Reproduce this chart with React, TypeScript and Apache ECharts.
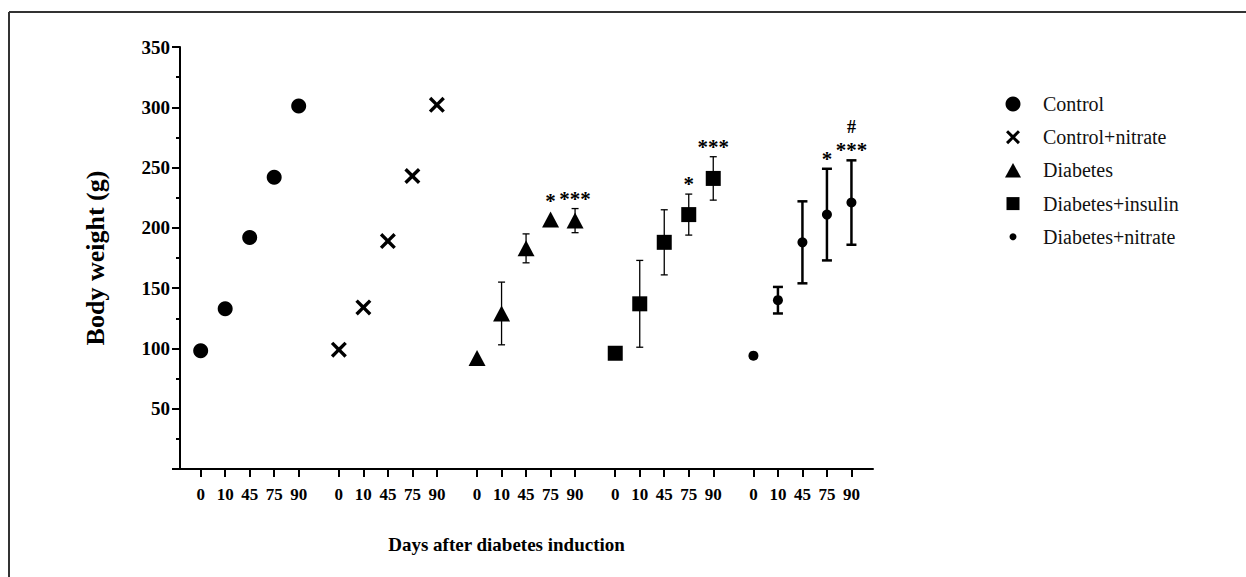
import React, { useEffect, useRef } from "react";
import * as echarts from "echarts";

// Sampling days shown under every group
const days = ["0", "10", "45", "75", "90"];

// Treatment groups, in plotting order
const groups = ["Control", "Control+nitrate", "Diabetes", "Diabetes+insulin", "Diabetes+nitrate"];

// Mean body weight (g) per day, and SD
const controlMean = [98, 133, 192, 242, 301];
const controlSd = [0, 0, 0, 0, 0];
const controlNitrateMean = [99, 134, 189, 243, 302];
const controlNitrateSd = [0, 0, 0, 0, 0];
const diabetesMean = [92, 129, 183, 207, 206];
const diabetesSd = [0, 26, 12, 0, 10];
const insulinMean = [96, 137, 188, 211, 241];
const insulinSd = [0, 36, 27, 17, 18];
const nitrateMean = [94, 140, 188, 211, 221];
const nitrateSd = [0, 11, 34, 38, 35];

// Significance marks drawn above each point
const noMarks = ["", "", "", "", ""];
const diabetesStars = ["", "", "", "*", "***"];
const insulinStars = ["", "", "", "*", "***"];
const nitrateStars = ["", "", "", "*", "***"];
const nitrateHash = ["", "", "", "", "#"];

const groupMeans = [controlMean, controlNitrateMean, diabetesMean, insulinMean, nitrateMean];
const groupSds = [controlSd, controlNitrateSd, diabetesSd, insulinSd, nitrateSd];
const groupStars = [noMarks, noMarks, diabetesStars, insulinStars, nitrateStars];
const groupHash = [noMarks, noMarks, noMarks, noMarks, nitrateHash];

const SERIF = "'Liberation Serif', 'Times New Roman', serif";
const X_PATH =
  "path://M1.5,0L5,3.5L8.5,0L10,1.5L6.5,5L10,8.5L8.5,10L5,6.5L1.5,10L0,8.5L3.5,5L0,1.5Z";

// Horizontal layout: groups are laid out side by side on one value axis
const GROUP_STEP = 5.64;
const X_MIN = -1.13;
const X_MAX = 27.44;
const xPos = (g: number, i: number) => g * GROUP_STEP + i;

const tickPositions: number[] = [];
const tickLabels: string[] = [];
groups.forEach((_, g) =>
  days.forEach((d, i) => {
    tickPositions.push(xPos(g, i));
    tickLabels.push(d);
  })
);
const labelFor = (v: number) => {
  for (let k = 0; k < tickPositions.length; k++) {
    if (Math.abs(tickPositions[k] - v) < 1e-6) return tickLabels[k];
  }
  return "";
};

const markerStyles: { symbol: string; size: number | number[]; half: number }[] = [
  { symbol: "circle", size: 15, half: 7.5 },
  { symbol: X_PATH, size: 16, half: 8 },
  { symbol: "triangle", size: [17, 16], half: 8 },
  { symbol: "rect", size: 15, half: 7.5 },
  { symbol: "circle", size: 10, half: 5 },
];
const barStyles = [
  { width: 1.3, cap: 7 },
  { width: 1.3, cap: 7 },
  { width: 1.3, cap: 7 },
  { width: 1.3, cap: 7 },
  { width: 2.5, cap: 10 },
];

function buildOption(): any {
  const series: any[] = [];

  groups.forEach((name, g) => {
    const pts = groupMeans[g].map((m, i) => [xPos(g, i), m, groupSds[g][i]]);
    const bar = barStyles[g];

    series.push({
      type: "custom",
      name: name + " SD",
      z: 1,
      clip: false,
      data: pts,
      encode: { x: 0, y: 1 },
      renderItem: (_p: any, api: any) => {
        const x = api.value(0);
        const m = api.value(1);
        const sd = api.value(2);
        if (!sd) return { type: "group", children: [] };
        const top = api.coord([x, m + sd]);
        const bot = api.coord([x, m - sd]);
        const hw = bar.cap / 2;
        const style = { stroke: "#000", lineWidth: bar.width };
        return {
          type: "group",
          children: [
            { type: "line", shape: { x1: top[0], y1: top[1], x2: bot[0], y2: bot[1] }, style },
            { type: "line", shape: { x1: top[0] - hw, y1: top[1], x2: top[0] + hw, y2: top[1] }, style },
            { type: "line", shape: { x1: bot[0] - hw, y1: bot[1], x2: bot[0] + hw, y2: bot[1] }, style },
          ],
        };
      },
    });

    series.push({
      type: "scatter",
      name,
      z: 3,
      symbol: markerStyles[g].symbol,
      symbolSize: markerStyles[g].size,
      itemStyle: { color: "#000", opacity: 1 },
      data: pts.map((p) => [p[0], p[1]]),
    });

    const marks = groupMeans[g]
      .map((m, i) => ({ i, m }))
      .filter(({ i }) => groupStars[g][i] || groupHash[g][i]);
    if (marks.length) {
      series.push({
        type: "custom",
        name: name + " significance",
        z: 4,
        clip: false,
        data: marks.map(({ i, m }) => [xPos(g, i), m, groupSds[g][i], i]),
        encode: { x: 0, y: 1 },
        renderItem: (_p: any, api: any) => {
          const x = api.value(0);
          const m = api.value(1);
          const sd = api.value(2);
          const i = api.value(3);
          const c = api.coord([x, m]);
          const barTop = api.coord([x, m + sd])[1];
          const top = Math.min(barTop, c[1] - markerStyles[g].half);
          const children: any[] = [];
          if (groupStars[g][i]) {
            children.push({
              type: "text",
              x: c[0],
              y: top - 1,
              style: {
                text: groupStars[g][i],
                fontFamily: SERIF,
                fontWeight: "bold",
                fontSize: 21,
                lineHeight: 18,
                fill: "#000",
                align: "center",
                verticalAlign: "bottom",
              },
            });
          }
          if (groupHash[g][i]) {
            children.push({
              type: "text",
              x: c[0],
              y: top - 25,
              style: {
                text: groupHash[g][i],
                fontFamily: SERIF,
                fontWeight: "bold",
                fontSize: 18,
                lineHeight: 16,
                fill: "#000",
                align: "center",
                verticalAlign: "bottom",
              },
            });
          }
          return { type: "group", children };
        },
      });
    }
  });

  // Legend, drawn as symbol + label rows to the right of the plot
  const LEGEND_X = 1013;
  const LEGEND_TEXT_X = 1043;
  const LEGEND_TOP = 104;
  const LEGEND_STEP = 33.2;
  const xPoly = (cx: number, cy: number, s: number) => {
    const raw = [
      [1.5, 0], [5, 3.5], [8.5, 0], [10, 1.5], [6.5, 5], [10, 8.5],
      [8.5, 10], [5, 6.5], [1.5, 10], [0, 8.5], [3.5, 5], [0, 1.5],
    ];
    return raw.map(([px, py]) => [cx - s / 2 + (px * s) / 10, cy - s / 2 + (py * s) / 10]);
  };
  const legendElements: any[] = [];
  groups.forEach((name, k) => {
    const cy = LEGEND_TOP + k * LEGEND_STEP;
    const fill = { fill: "#000" };
    if (k === 0) legendElements.push({ type: "circle", shape: { cx: LEGEND_X, cy, r: 7.5 }, style: fill });
    if (k === 1) legendElements.push({ type: "polygon", shape: { points: xPoly(LEGEND_X, cy, 14) }, style: fill });
    if (k === 2)
      legendElements.push({
        type: "polygon",
        shape: { points: [[LEGEND_X, cy - 7.5], [LEGEND_X + 8, cy + 7], [LEGEND_X - 8, cy + 7]] },
        style: fill,
      });
    if (k === 3)
      legendElements.push({ type: "rect", shape: { x: LEGEND_X - 6.5, y: cy - 6.5, width: 13, height: 13 }, style: fill });
    if (k === 4) legendElements.push({ type: "circle", shape: { cx: LEGEND_X, cy, r: 3.5 }, style: fill });
    legendElements.push({
      type: "text",
      x: LEGEND_TEXT_X,
      y: cy,
      style: {
        text: name,
        fontFamily: SERIF,
        fontSize: 20,
        fill: "#111",
        align: "left",
        verticalAlign: "middle",
      },
    });
  });

  return {
    animation: false,
    backgroundColor: "#fff",
    grid: { left: 173, right: 373, top: 47, bottom: 108, containLabel: false },
    xAxis: {
      type: "value",
      min: X_MIN,
      max: X_MAX,
      splitLine: { show: false },
      axisLine: { show: true, onZero: false, lineStyle: { color: "#000", width: 2 } },
      axisTick: { show: true, customValues: tickPositions, length: 8, lineStyle: { color: "#000", width: 2 } },
      axisLabel: {
        customValues: tickPositions,
        formatter: (v: number) => labelFor(v),
        margin: 17,
        fontFamily: SERIF,
        fontWeight: "bold",
        fontSize: 17,
        color: "#000",
      },
      name: "Days after diabetes induction",
      nameLocation: "middle",
      nameGap: 66,
      nameTextStyle: {
        fontFamily: SERIF,
        fontWeight: "bold",
        fontSize: 19,
        color: "#000",
        padding: [0, 33, 0, 0],
      },
    },
    yAxis: {
      type: "value",
      min: 0,
      max: 350,
      interval: 50,
      offset: -7,
      splitLine: { show: false },
      axisLine: { show: true, onZero: false, lineStyle: { color: "#000", width: 2 } },
      axisTick: { show: true, length: 8, lineStyle: { color: "#000", width: 2 } },
      minorTick: { show: true, splitNumber: 2, length: 4, lineStyle: { color: "#000", width: 2 } },
      axisLabel: {
        formatter: (v: number) => (v === 0 ? "" : String(v)),
        margin: 10,
        fontFamily: SERIF,
        fontWeight: "bold",
        fontSize: 19,
        color: "#000",
      },
      name: "Body weight (g)",
      nameLocation: "middle",
      nameRotate: 90,
      nameGap: 72,
      nameTextStyle: { fontFamily: SERIF, fontWeight: "bold", fontSize: 26, color: "#000" },
    },
    graphic: [
      { type: "line", shape: { x1: 9, y1: 12, x2: 1246, y2: 12 }, style: { stroke: "#333", lineWidth: 2 } },
      { type: "line", shape: { x1: 9, y1: 12, x2: 9, y2: 577 }, style: { stroke: "#333", lineWidth: 2 } },
      ...legendElements,
    ],
    series,
  };
}

export default function App() {
  const ref = useRef<HTMLDivElement>(null);
  useEffect(() => {
    if (!ref.current) return;
    const chart = echarts.init(ref.current, undefined, { renderer: "svg" });
    chart.setOption(buildOption());
    return () => chart.dispose();
  }, []);
  return (
    <div
      ref={ref}
      style={{ position: "absolute", left: 0, top: 0, width: 1246, height: 577, background: "#fff" }}
    />
  );
}
